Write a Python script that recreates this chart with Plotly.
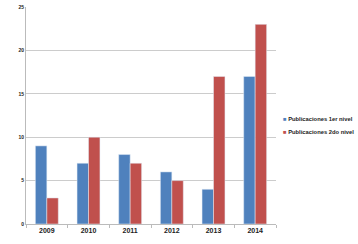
import plotly.graph_objects as go

years = ["2009", "2010", "2011", "2012", "2013", "2014"]
pub1 = [9, 7, 8, 6, 4, 17]
pub2 = [3, 10, 7, 5, 17, 23]
yticks = [0, 5, 10, 15, 20, 25]
series_names = ["Publicaciones 1er nivel", "Publicaciones 2do nivel"]
colors = ["#4F81BD", "#C0504D"]

FONT = "Liberation Sans, Arial"

fig = go.Figure()
fig.add_trace(go.Bar(x=years, y=pub1, name=series_names[0], marker_color=colors[0]))
fig.add_trace(go.Bar(x=years, y=pub2, name=series_names[1], marker_color=colors[1]))

# legend drawn as text annotations (compact, as in the reference)
for i, (nm, c) in enumerate(zip(series_names, colors)):
    fig.add_annotation(
        xref="paper", yref="paper", x=1.02, y=0.485 - i * 0.06,
        xanchor="left", yanchor="middle", showarrow=False,
        text=f'<span style="color:{c}">■</span> <b>{nm}</b>',
        font=dict(size=5.8, family=FONT, color="#222"),
    )

fig.update_layout(
    width=358, height=244,
    margin=dict(l=26, r=82, t=7, b=20, autoexpand=False),
    paper_bgcolor="white", plot_bgcolor="white",
    barmode="group", bargap=0.45, bargroupgap=0,
    font=dict(family=FONT, color="#222"),
    showlegend=False,
)
fig.update_xaxes(showline=True, linecolor="#BBBBBB", linewidth=1,
                 tickfont=dict(size=7, family=FONT),
                 tickprefix="<b>", ticksuffix="</b>",
                 ticks="outside", tickson="boundaries", ticklen=3,
                 tickcolor="#BBBBBB")
fig.update_yaxes(range=[0, 25], tickvals=yticks, ticktext=[f"<b>{v}</b>" for v in yticks],
                 showgrid=True, gridcolor="#CCCCCC", gridwidth=1,
                 showline=True, linecolor="#BBBBBB", zeroline=False,
                 tickfont=dict(size=5, family=FONT), ticks="")
fig.write_html("out.html", config={"displayModeBar": False},
               post_script="document.body.style.margin='0';")
